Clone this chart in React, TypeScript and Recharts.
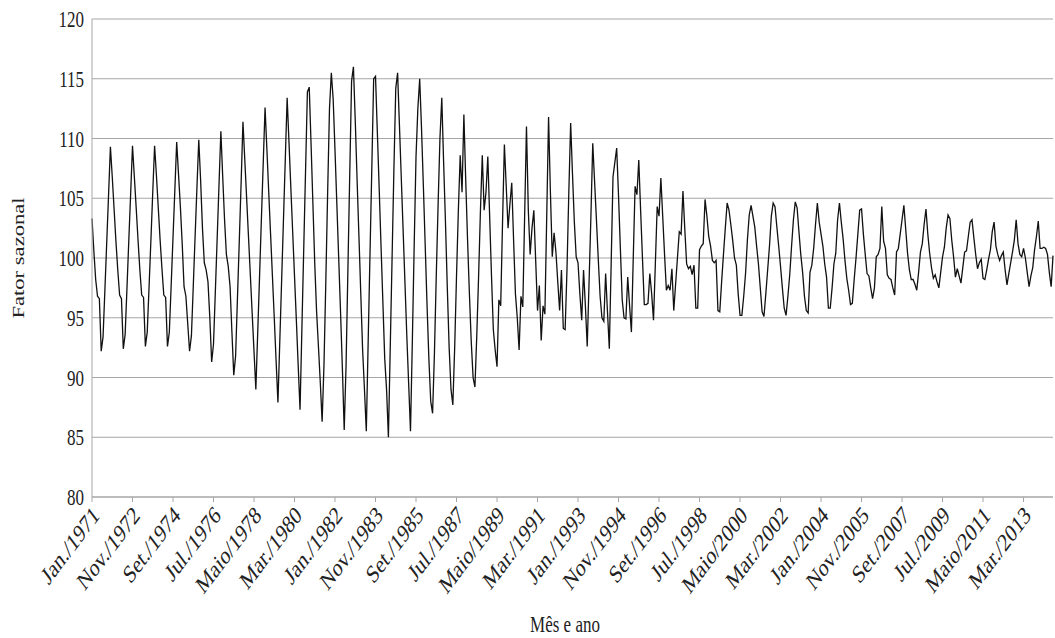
import { LineChart, Line, XAxis, YAxis, CartesianGrid } from 'recharts';

const MESES = ['Jan.', 'Fev.', 'Mar.', 'Abr.', 'Maio', 'Jun.', 'Jul.', 'Ago.', 'Set.', 'Out.', 'Nov.', 'Dez.'];
const ANO_INICIAL = 1971;
const PASSO_ROTULO = 22;
const Y_TICKS = [80, 85, 90, 95, 100, 105, 110, 115, 120];

// fator sazonal mensal, uma linha por ano (jan..dez)
const FATOR_70 = [
  103.3, 100.6, 98.2, 96.8, 96.6, 92.2, 93.4, 97.3, 101.3, 105.3, 109.3, 106.8, // 1971
  104.1, 101.4, 99.0, 96.9, 96.6, 92.4, 93.6, 97.5, 101.5, 105.4, 109.4, 106.8, // 1972
  104.2, 101.5, 99.0, 96.9, 96.7, 92.6, 93.8, 97.6, 101.5, 105.5, 109.4, 106.9, // 1973
  104.2, 101.5, 99.1, 96.9, 96.7, 92.6, 93.8, 97.7, 101.7, 105.7, 109.7, 107.0, // 1974
  104.3, 101.2, 97.6, 96.8, 94.5, 92.2, 93.5, 97.6, 101.8, 105.9, 109.9, 106.5, // 1975
  102.5, 99.6, 99.0, 98.0, 95.0, 91.3, 92.8, 97.2, 101.7, 106.2, 110.6, 106.8, // 1976
  103.2, 100.3, 99.3, 97.6, 93.8, 90.2, 91.8, 96.6, 101.4, 106.3, 111.4, 108.2, // 1977
  105.0, 101.8, 98.6, 95.4, 92.2, 89.0, 93.7, 98.4, 103.2, 107.9, 112.6, 109.1, // 1978
  105.5, 102.0, 98.5, 95.0, 91.4, 87.9, 93.0, 98.1, 103.2, 108.3, 113.4, 109.7, // 1979
];

const FATOR_80 = [
  105.9, 102.2, 98.5, 94.8, 91.0, 87.3, 94.0, 100.7, 107.3, 113.9, 114.3, 109.5, // 1980
  104.5, 99.5, 95.5, 92.6, 89.6, 86.3, 91.0, 98.0, 105.5, 112.5, 115.5, 113.3, // 1981
  109.0, 104.5, 100.0, 95.5, 90.8, 85.6, 91.0, 99.0, 107.0, 114.8, 116.0, 111.5, // 1982
  106.5, 101.8, 97.0, 92.3, 89.0, 85.5, 92.9, 100.3, 107.6, 115.0, 115.2, 110.5, // 1983
  105.8, 101.0, 96.3, 91.6, 89.0, 85.0, 92.5, 100.0, 107.5, 114.2, 115.5, 111.1, // 1984
  106.7, 102.3, 97.9, 93.5, 89.5, 85.5, 93.0, 101.0, 108.5, 112.5, 115.0, 110.8, // 1985
  106.0, 101.0, 96.0, 91.5, 88.0, 87.0, 92.0, 98.5, 104.5, 110.0, 113.4, 108.0, // 1986
  103.0, 97.5, 92.5, 89.0, 87.7, 92.5, 98.5, 104.0, 108.6, 105.5, 112.0, 106.5, // 1987
  101.5, 97.0, 93.0, 90.0, 89.2, 93.5, 98.5, 104.0, 108.6, 104.0, 105.5, 108.5, // 1988
  103.5, 98.5, 94.0, 92.3, 90.9, 96.5, 96.0, 103.0, 109.5, 106.0, 102.5, 104.5, // 1989
];

const FATOR_90 = [
  106.3, 101.5, 97.0, 95.0, 92.3, 96.8, 95.9, 103.5, 111.0, 104.0, 100.3, 102.5, // 1990
  104.0, 99.8, 95.6, 97.7, 93.1, 96.0, 95.3, 103.5, 111.8, 105.5, 100.1, 102.1, // 1991
  100.5, 98.0, 95.6, 99.0, 94.1, 94.0, 99.0, 105.5, 111.3, 107.0, 103.0, 100.1, // 1992
  99.6, 97.0, 94.8, 99.0, 96.0, 92.6, 98.0, 103.5, 109.6, 106.4, 103.2, 99.9, // 1993
  96.8, 95.0, 94.7, 98.7, 95.5, 92.4, 99.5, 106.8, 108.0, 109.2, 105.2, 100.8, // 1994
  96.5, 95.0, 94.9, 98.4, 96.0, 93.8, 100.0, 106.0, 105.3, 108.2, 104.0, 100.0, // 1995
  96.1, 96.1, 96.2, 98.7, 97.0, 94.8, 99.5, 104.3, 103.5, 106.7, 103.5, 100.3, // 1996
  97.3, 97.7, 97.3, 99.1, 95.6, 97.8, 100.0, 102.2, 102.0, 105.6, 102.4, 99.5, // 1997
  99.1, 99.3, 98.6, 99.4, 95.8, 95.8, 100.7, 101.0, 101.2, 104.9, 103.5, 101.8, // 1998
  101.0, 99.8, 99.6, 99.8, 95.6, 95.5, 98.0, 100.3, 102.5, 104.6, 104.0, 102.8, // 1999
];

const FATOR_00 = [
  101.5, 100.0, 99.4, 97.0, 95.2, 95.2, 96.8, 98.7, 101.5, 103.6, 104.4, 103.5, // 2000
  102.6, 101.0, 99.5, 97.5, 95.5, 95.1, 97.0, 99.0, 101.0, 103.5, 104.6, 104.3, // 2001
  102.6, 101.0, 99.3, 97.5, 95.8, 95.2, 96.8, 98.6, 101.0, 103.2, 104.7, 104.2, // 2002
  102.2, 100.3, 98.8, 96.8, 95.6, 95.4, 98.8, 99.4, 100.8, 102.8, 104.6, 103.0, // 2003
  102.0, 101.0, 99.5, 98.4, 95.8, 95.8, 97.5, 99.5, 100.4, 103.2, 104.6, 103.0, // 2004
  101.6, 99.8, 98.3, 97.3, 96.1, 96.2, 98.2, 100.0, 102.0, 104.0, 104.1, 102.0, // 2005
  100.3, 98.7, 98.5, 97.5, 96.6, 97.5, 100.1, 100.3, 100.8, 104.3, 101.4, 100.8, // 2006
  98.6, 98.3, 98.2, 97.5, 96.9, 100.5, 100.8, 102.0, 103.2, 104.4, 102.4, 100.4, // 2007
  99.0, 98.2, 98.2, 97.8, 97.3, 98.8, 100.5, 101.2, 102.8, 104.1, 102.0, 100.4, // 2008
  99.2, 98.3, 98.6, 98.0, 97.5, 98.8, 100.1, 100.9, 102.5, 103.6, 103.3, 101.5, // 2009
];

const FATOR_10 = [
  100.1, 98.4, 99.1, 98.5, 97.9, 99.2, 100.5, 100.6, 101.8, 103.0, 103.2, 101.7, // 2010
  100.3, 99.1, 99.6, 99.9, 98.3, 98.2, 99.0, 99.9, 100.7, 102.2, 103.0, 101.0, // 2011
  100.3, 99.8, 100.2, 100.5, 99.0, 97.75, 98.7, 99.6, 100.5, 101.5, 103.2, 101.2, // 2012
  100.3, 100.1, 100.8, 100.0, 98.8, 97.6, 98.5, 99.2, 100.7, 101.8, 103.1, 100.8, // 2013
  100.8, 100.9, 100.8, 100.3, 98.8, 97.6, 100.2, // 2014 (até jul.)
];

const FATOR = [...FATOR_70, ...FATOR_80, ...FATOR_90, ...FATOR_00, ...FATOR_10];
const data = FATOR.map((v, i) => ({ i, v }));
const xTicks = data.filter((d) => d.i % PASSO_ROTULO === 0).map((d) => d.i);

const rotulo = (i: number) => `${MESES[i % 12]}/${ANO_INICIAL + Math.floor(i / 12)}`;

const FONTE = '"Liberation Serif", serif';
const CINZA = '#a6a6a6';
const ESTICA = 1.33; // o texto do original aparece esticado na vertical

function XTick({ x, y, payload }: any) {
  return (
    <g transform={`translate(${x + 5},${y + 8}) scale(1,${ESTICA}) rotate(-45)`}>
      <text x={0} y={0} dy={5} textAnchor="end" fontFamily={FONTE} fontSize={19} fill="#222">
        {rotulo(payload.value)}
      </text>
    </g>
  );
}

function YTick({ x, y, payload }: any) {
  return (
    <g transform={`translate(${x},${y}) scale(1,${ESTICA})`}>
      <text x={0} y={0} dy="0.36em" textAnchor="end" fontFamily={FONTE} fontSize={17} fill="#222">
        {payload.value}
      </text>
    </g>
  );
}

export default function App() {
  return (
    <div style={{ position: 'relative', width: 1055, height: 638, background: '#fff', fontFamily: FONTE }}>
      <style>{'body{margin:0}'}</style>
      <LineChart width={1055} height={638} data={data} margin={{ top: 19, right: 2, bottom: 0, left: 0 }}>
        <CartesianGrid vertical={false} stroke={CINZA} strokeWidth={1} />
        <XAxis
          type="number"
          dataKey="i"
          domain={[0, FATOR.length - 1]}
          ticks={xTicks}
          interval={0}
          height={141}
          tick={<XTick />}
          tickSize={5}
          tickMargin={2}
          tickLine={{ stroke: CINZA }}
          axisLine={{ stroke: CINZA }}
        />
        <YAxis
          domain={[80, 120]}
          ticks={Y_TICKS}
          width={92}
          tickLine={false}
          tickSize={0}
          tickMargin={8}
          axisLine={{ stroke: CINZA }}
          tick={<YTick />}
        />
        <Line
          type="linear"
          dataKey="v"
          stroke="#111"
          strokeWidth={1.3}
          dot={false}
          isAnimationActive={false}
        />
      </LineChart>
      <div
        style={{
          position: 'absolute',
          left: 19,
          top: 258,
          transform: `translate(-50%, -50%) scale(1, ${ESTICA}) rotate(-90deg)`,
          whiteSpace: 'nowrap',
          fontSize: 17,
          color: '#222',
        }}
      >
        Fator sazonal
      </div>
      <div
        style={{
          position: 'absolute',
          left: 565,
          top: 625,
          transform: `translate(-50%, -50%) scale(1, ${ESTICA})`,
          whiteSpace: 'nowrap',
          fontSize: 17,
          color: '#222',
        }}
      >
        Mês e ano
      </div>
    </div>
  );
}
